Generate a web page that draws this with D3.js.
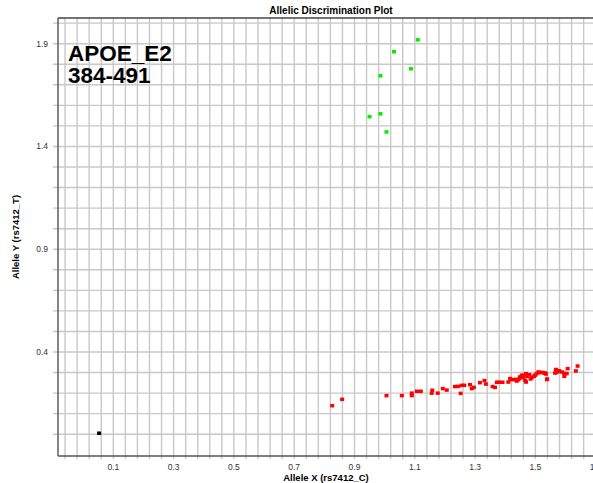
<!DOCTYPE html>
<html>
<head>
<meta charset="utf-8">
<script src="https://cdn.jsdelivr.net/npm/d3@7"></script>
<style>
  body { margin: 0; background: #fff; }
  svg { display: block; font-family: Arial, "Liberation Sans", sans-serif; }
</style>
</head>
<body>
<svg id="plot"></svg>
<script>
// Allele 1 cluster (red), allele 2 cluster (green), undetermined (black)
const allele1Points = [
    [0.826,0.140],[0.859,0.171],[1.006,0.189],[1.057,0.189],[1.090,0.201],[1.090,0.189],
    [1.107,0.210],[1.120,0.210],[1.158,0.215],[1.156,0.201],[1.176,0.201],[1.193,0.223],
    [1.206,0.216],[1.233,0.233],[1.244,0.234],[1.256,0.239],[1.264,0.239],[1.252,0.200],
    [1.283,0.242],[1.289,0.223],[1.296,0.229],[1.316,0.252],[1.331,0.262],[1.336,0.245],
    [1.358,0.233],[1.366,0.229],[1.372,0.254],[1.380,0.254],[1.391,0.254],[1.410,0.255],
    [1.418,0.267],[1.427,0.267],[1.436,0.268],[1.447,0.272],[1.455,0.288],[1.460,0.277],
    [1.466,0.263],[1.469,0.296],[1.473,0.283],[1.480,0.291],[1.488,0.277],[1.495,0.283],
    [1.504,0.296],[1.512,0.301],[1.521,0.302],[1.532,0.299],[1.539,0.270],[1.535,0.294],
    [1.568,0.316],[1.571,0.302],[1.579,0.309],[1.588,0.304],[1.595,0.298],[1.604,0.296],
    [1.607,0.320],[1.634,0.309],[1.640,0.333],[1.416,0.272],[1.438,0.260],[1.449,0.280],
    [1.460,0.288],[1.499,0.288],[1.510,0.304],[1.529,0.299],[1.565,0.299],[1.576,0.309],
    [1.596,0.283],[1.469,0.255],[1.538,0.267],[1.484,0.270],[1.443,0.266]
];
const allele2Points = [
    [1.110,1.920],[1.031,1.862],[1.087,1.779],[0.986,1.745],
    [0.986,1.560],[0.950,1.546],[1.006,1.472]
];
const undeterminedPoints = [[0.053,0.006]];

const xTickLabels = [0.1, 0.3, 0.5, 0.7, 0.9, 1.1, 1.3, 1.5, 1.7];
const yTickLabels = [0.4, 0.9, 1.4, 1.9];
const xGridLines = d3.range(-4, 40).map(k => 0.1 + 0.04 * k);
const yGridLines = d3.range(-4, 17).map(k => 0.4 + 0.1 * k);

const W = 593, H = 483;
const margin = { left: 58, right: 0, top: 18, bottom: 27 };

const svg = d3.select('#plot').attr('width', W).attr('height', H);

const x = d3.scaleLinear().domain([-0.0834, 1.691]).range([margin.left, W - margin.right]);
const y = d3.scaleLinear().domain([-0.106, 2.025]).range([H - margin.bottom, margin.top]);

const fmt = d => d3.format('.1f')(d);

// gridlines
svg.append('g').selectAll('line.vg')
    .data(xGridLines)
    .join('line')
    .attr('x1', d => x(d)).attr('x2', d => x(d))
    .attr('y1', y.range()[1]).attr('y2', y.range()[0] + 3)
    .attr('stroke', '#c8c8c8').attr('stroke-width', 1.4);

svg.append('g').selectAll('line.hg')
    .data(yGridLines)
    .join('line')
    .attr('x1', margin.left - 5).attr('x2', W)
    .attr('y1', d => y(d)).attr('y2', d => y(d))
    .attr('stroke', '#c8c8c8').attr('stroke-width', 1.4);

// axis frame
svg.append('line')
    .attr('x1', margin.left).attr('x2', W)
    .attr('y1', y.range()[0]).attr('y2', y.range()[0])
    .attr('stroke', '#555').attr('stroke-width', 1.6);
svg.append('line')
    .attr('x1', margin.left).attr('x2', margin.left)
    .attr('y1', y.range()[1]).attr('y2', y.range()[0])
    .attr('stroke', '#666').attr('stroke-width', 1.6);
svg.append('line')
    .attr('x1', margin.left).attr('x2', W)
    .attr('y1', y.range()[1]).attr('y2', y.range()[1])
    .attr('stroke', '#444').attr('stroke-width', 1.6);

// tick labels
svg.append('g').selectAll('text')
    .data(xTickLabels)
    .join('text')
    .attr('x', d => x(d)).attr('y', y.range()[0] + 14)
    .attr('text-anchor', 'middle')
    .attr('font-size', 8.5).attr('fill', '#333')
    .text(fmt);

svg.append('g').selectAll('text')
    .data(yTickLabels)
    .join('text')
    .attr('x', margin.left - 10).attr('y', d => y(d) + 3)
    .attr('text-anchor', 'end')
    .attr('font-size', 8.5).attr('fill', '#333')
    .text(fmt);

// titles
svg.append('text')
    .attr('x', 331).attr('y', 14)
    .attr('text-anchor', 'middle')
    .attr('font-size', 10).attr('font-weight', 'bold')
    .text('Allelic Discrimination Plot');

svg.append('text')
    .attr('x', 326).attr('y', 481)
    .attr('text-anchor', 'middle')
    .attr('font-size', 9.5).attr('font-weight', 'bold')
    .text('Allele X (rs7412_C)');

svg.append('text')
    .attr('transform', 'translate(19, 237) rotate(-90)')
    .attr('text-anchor', 'middle')
    .attr('font-size', 9.5).attr('font-weight', 'bold')
    .text('Allele Y (rs7412_T)');

svg.append('text')
    .attr('x', 68).attr('y', 61)
    .attr('font-size', 22.5).attr('font-weight', 'bold')
    .text('APOE_E2');
svg.append('text')
    .attr('x', 68).attr('y', 83)
    .attr('font-size', 22.5).attr('font-weight', 'bold')
    .text('384-491');

// points
const drawPoints = (pts, color) => {
    svg.append('g').selectAll('rect')
        .data(pts)
        .join('rect')
        .attr('x', d => x(d[0]) - 2)
        .attr('y', d => y(d[1]) - 1.5)
        .attr('width', 4).attr('height', 3.5)
        .attr('fill', color);
};
drawPoints(allele1Points, '#ff0000');
drawPoints(allele2Points, '#00ee00');
drawPoints(undeterminedPoints, '#000000');
</script>
</body>
</html>
